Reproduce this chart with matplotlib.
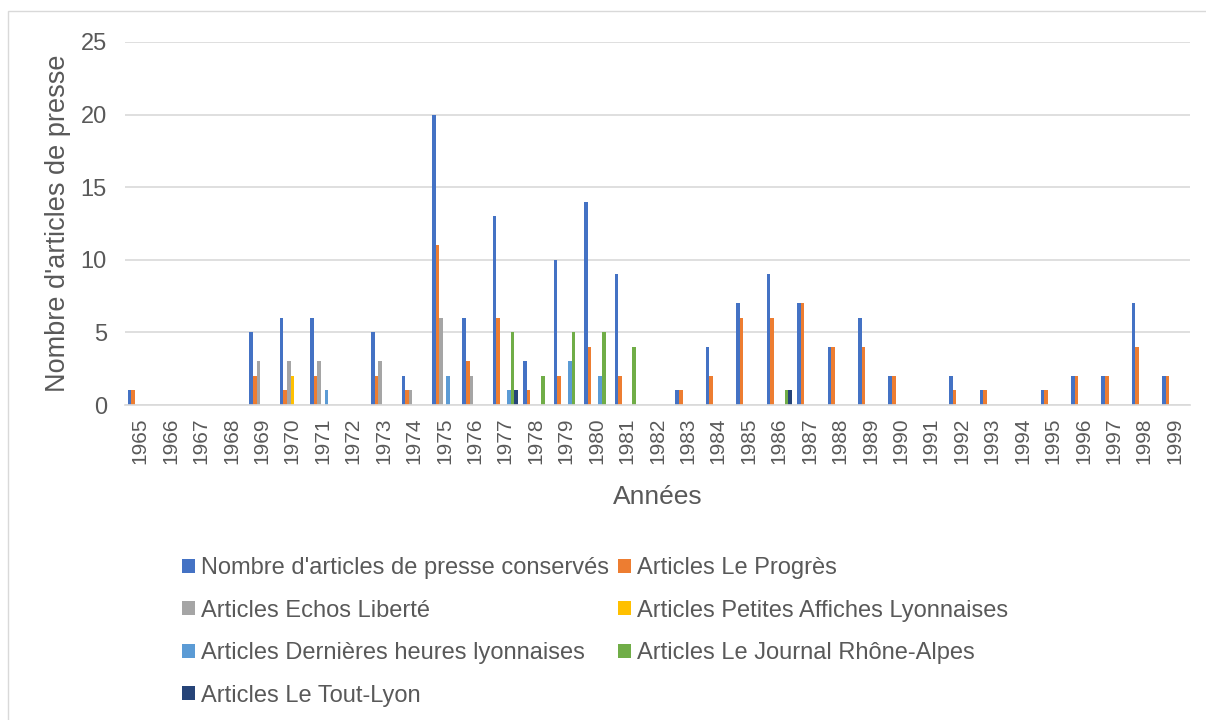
import numpy as np
import matplotlib

matplotlib.use("Agg")
import matplotlib.pyplot as plt
from matplotlib.patches import Rectangle

plt.rcParams["font.family"] = ["Liberation Sans", "DejaVu Sans"]

years = list(range(1965, 2000))

series_names = [
    "Nombre d'articles de presse conservés",
    "Articles Le Progrès",
    "Articles Echos Liberté",
    "Articles Petites Affiches Lyonnaises",
    "Articles Dernières heures lyonnaises",
    "Articles Le Journal Rhône-Alpes",
    "Articles Le Tout-Lyon",
]
colors = ["#4472C4", "#ED7D31", "#A5A5A5", "#FFC000", "#5B9BD5", "#70AD47", "#264478"]

# 1965 ... 1999
conserves = [1, 0, 0, 0, 5, 6, 6, 0, 5, 2, 20, 6, 13, 3, 10, 14, 9, 0,
             1, 4, 7, 9, 7, 4, 6, 2, 0, 2, 1, 0, 1, 2, 2, 7, 2]
progres = [1, 0, 0, 0, 2, 1, 2, 0, 2, 1, 11, 3, 6, 1, 2, 4, 2, 0,
           1, 2, 6, 6, 7, 4, 4, 2, 0, 1, 1, 0, 1, 2, 2, 4, 2]
echos = [0, 0, 0, 0, 3, 3, 3, 0, 3, 1, 6, 2, 0, 0, 0, 0, 0, 0,
         0, 0, 0, 0, 0, 0, 0, 0, 0, 0, 0, 0, 0, 0, 0, 0, 0]
petites_affiches = [0, 0, 0, 0, 0, 2, 0, 0, 0, 0, 0, 0, 0, 0, 0, 0, 0, 0,
                    0, 0, 0, 0, 0, 0, 0, 0, 0, 0, 0, 0, 0, 0, 0, 0, 0]
dernieres_heures = [0, 0, 0, 0, 0, 0, 1, 0, 0, 0, 2, 0, 1, 0, 3, 2, 0, 0,
                    0, 0, 0, 0, 0, 0, 0, 0, 0, 0, 0, 0, 0, 0, 0, 0, 0]
journal_ra = [0, 0, 0, 0, 0, 0, 0, 0, 0, 0, 0, 0, 5, 2, 5, 5, 4, 0,
              0, 0, 0, 1, 0, 0, 0, 0, 0, 0, 0, 0, 0, 0, 0, 0, 0]
tout_lyon = [0, 0, 0, 0, 0, 0, 0, 0, 0, 0, 0, 0, 1, 0, 0, 0, 0, 0,
             0, 0, 0, 1, 0, 0, 0, 0, 0, 0, 0, 0, 0, 0, 0, 0, 0]

all_series = [conserves, progres, echos, petites_affiches,
              dernieres_heures, journal_ra, tout_lyon]

text_color = "#595959"
grid_color = "#D9D9D9"

fig = plt.figure(figsize=(12.06, 7.2), dpi=100)
ax = fig.add_axes([125 / 1206, 1 - 405 / 720, 1065 / 1206, 363 / 720])

x = np.arange(len(years))
n_series = len(all_series)
w = 1 / 8.5
handles = []
for i, (vals, col) in enumerate(zip(all_series, colors)):
    b = ax.bar(x + (i - (n_series - 1) / 2) * w, vals, width=w, color=col,
               label=series_names[i], linewidth=0)
    handles.append(b)

ax.set_xlim(-0.5, len(years) - 0.5)
ax.set_ylim(0, 25)
ax.set_yticks([0, 5, 10, 15, 20, 25])
ax.set_xticks(x)
ax.set_xticklabels([str(y) for y in years], rotation=90)
ax.yaxis.grid(True, color=grid_color, linewidth=1.2)
ax.set_axisbelow(True)
for s in ["top", "right", "left"]:
    ax.spines[s].set_visible(False)
ax.spines["bottom"].set_color(grid_color)
ax.spines["bottom"].set_linewidth(1.2)
ax.tick_params(axis="both", length=0, colors=text_color)
ax.tick_params(axis="y", labelsize=17, pad=13)
ax.tick_params(axis="x", labelsize=15, pad=9)

ax.set_ylabel("Nombre d'articles de presse", fontsize=19.5, color=text_color)
ax.yaxis.set_label_coords(-0.051, 0.5)
ax.set_xlabel("Années", fontsize=19, color=text_color)
ax.xaxis.set_label_coords(0.5, -0.253)
ax.xaxis.label.set_verticalalignment("center")

# Excel fills the legend row by row, matplotlib column by column
order = [0, 2, 4, 6, 1, 3, 5]
fig.legend([handles[k] for k in order], [series_names[k] for k in order],
           loc="upper left", bbox_to_anchor=(182 / 1206, 1 - 557 / 720),
           ncol=2, frameon=False, fontsize=17, labelcolor=text_color,
           handlelength=0.55, handleheight=0.55, handletextpad=0.25,
           columnspacing=0.4, labelspacing=0.87, borderpad=0, borderaxespad=0)

fig.patches.append(Rectangle((8 / 1206, -0.1), 2, 1.1 - 11 / 720,
                             transform=fig.transFigure, fill=False,
                             edgecolor=grid_color, linewidth=1))

fig.savefig("out.png", dpi=100)
